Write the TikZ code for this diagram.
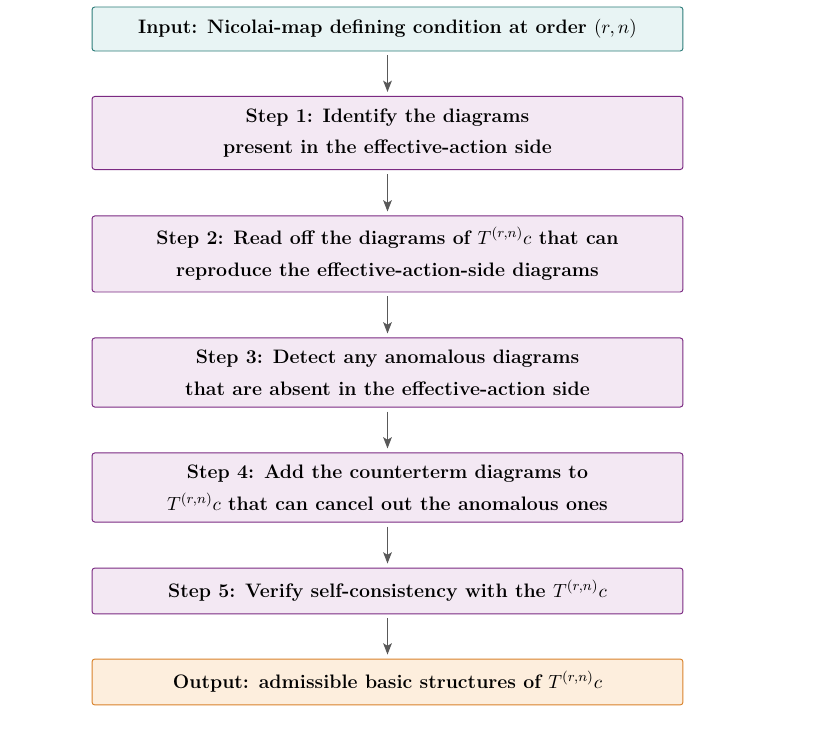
\documentclass[tikz,border=0pt]{standalone}
\usetikzlibrary{arrows.meta}
\definecolor{inborder}{HTML}{2E7D7A}
\definecolor{infill}{HTML}{E8F4F4}
\definecolor{stborder}{HTML}{7B2A82}
\definecolor{stfill}{HTML}{F3E8F3}
\definecolor{outborder}{HTML}{D9822B}
\definecolor{outfill}{HTML}{FDEEDD}
\tikzset{
  box/.style={draw, rounded corners=1.6pt, line width=0.55pt, minimum width=339.6pt,
    align=center, font=\fontsize{11.2}{18.2}\selectfont\bfseries, inner sep=0pt},
  inbox/.style={box, draw=inborder, fill=infill},
  stepbox/.style={box, draw=stborder, fill=stfill},
  outbox/.style={box, draw=outborder, fill=outfill},
  flow/.style={draw=black!65, line width=0.7pt, -{Stealth[length=6.5pt,width=5pt,inset=1.5pt]},
    shorten <=2.3pt, shorten >=2.3pt}
}
\begin{document}
\begin{tikzpicture}[x=0.5747pt, y=-0.5747pt]
\useasboundingbox (0,0) rectangle (838,735);
\node[inbox, minimum height=25.3pt] (in) at (387.5,29) {Input: Nicolai-map defining condition at order $(r,n)$};
\node[stepbox, minimum height=42pt] (s1) at (387.5,133) {Step 1: Identify the diagrams\\ present in the effective-action side};
\node[stepbox, minimum height=43.7pt] (s2) at (387.5,254) {Step 2: Read off the diagrams of $T^{(r,n)}c$ that can\\ reproduce the effective-action-side diagrams};
\node[stepbox, minimum height=39.7pt] (s3) at (387.5,372.5) {Step 3: Detect any anomalous diagrams\\ that are absent in the effective-action side};
\node[stepbox, minimum height=39.7pt] (s4) at (387.5,487.5) {Step 4: Add the counterterm diagrams to\\ $T^{(r,n)}c$ that can cancel out the anomalous ones};
\node[stepbox, minimum height=26.4pt] (s5) at (387.5,591) {Step 5: Verify self-consistency with the $T^{(r,n)}c$};
\node[outbox, minimum height=26.4pt] (out) at (387.5,682) {Output: admissible basic structures of $T^{(r,n)}c$};
\draw[flow] (in) -- (s1);
\draw[flow] (s1) -- (s2);
\draw[flow] (s2) -- (s3);
\draw[flow] (s3) -- (s4);
\draw[flow] (s4) -- (s5);
\draw[flow] (s5) -- (out);
\end{tikzpicture}
\end{document}
